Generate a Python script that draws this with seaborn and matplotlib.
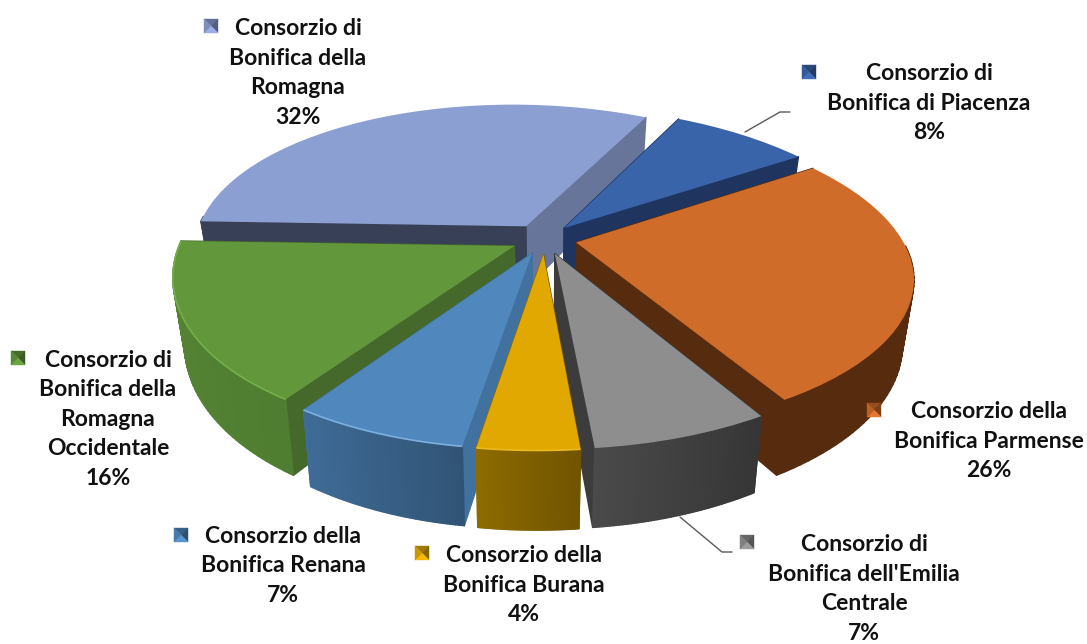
import numpy as np
import seaborn as sns
import matplotlib.pyplot as plt
from matplotlib.collections import PolyCollection
from matplotlib.colors import to_rgb
from matplotlib.patches import Polygon
from matplotlib.path import Path
from matplotlib.transforms import Transform

names = ["Consorzio di\nBonifica di Piacenza",
         "Consorzio della\nBonifica Parmense",
         "Consorzio di\nBonifica dell'Emilia\nCentrale",
         "Consorzio della\nBonifica Burana",
         "Consorzio della\nBonifica Renana",
         "Consorzio di\nBonifica della\nRomagna\nOccidentale",
         "Consorzio di\nBonifica della\nRomagna"]
shares = [8, 26, 7, 4, 7, 16, 32]

top_colors = ["#3A64AA", "#D06C2A", "#8E8E8E", "#E0A800", "#5087BC", "#62973C", "#8C9FD2"]
wall_left = ["#1F3560", "#562B0E", "#4A4A4A", "#8E6C00", "#3F6C97", "#568434", "#384057"]
wall_right = ["#1F3560", "#562B0E", "#363636", "#705400", "#315476", "#4F7D31", "#384057"]
start_face = ["#1F3560", "#562B0E", "#3C3C3C", "#705400", "#41719F", "#44692A", "#384057"]
end_face = ["#1F3560", "#562B0E", "#3C3C3C", "#8E6C00", "#41719F", "#44692A", "#68759A"]
rim_colors = [None, None, None, "#EDB920", "#7CB0E0", "#74B04A", None]

# back to front
draw_order = [6, 0, 5, 1, 4, 2, 3]

label_x = [929, 989, 864, 524, 283, 108, 298]
label_y = [105, 443, 591, 587, 568, 421, 75]
key_x = [809, 874, 747, 422, 181, 18, 211]
key_y = [72, 410, 542, 553, 535, 358, 26]

start_angle = 65
explode = 0.1
cx, cy = 543.5, 239
rx, ry = 330, 152
persp = 0.19
depth = 63


def tilt(x, y, z=0):
    w = 1 + persp * y
    # the original 3D view is not quite square on, front slides left and the plate leans
    dx = -14 * np.minimum(y, 0) ** 2
    dy = np.where(x < 0, 5.5, 7) * x + 2.5 * np.maximum(y, 0)
    return cx + rx * x / w * (1 - 0.0005 * z) + dx, cy + (z - ry * y) / w + dy


class Tilt(Transform):
    input_dims = output_dims = 2
    is_separable = False
    has_inverse = False

    def transform_non_affine(self, values):
        px, py = tilt(values[:, 0], values[:, 1])
        return np.column_stack([px, py])

    def transform_path_non_affine(self, path):
        return Path(self.transform_non_affine(path.vertices), path.codes)


sns.set_theme(style="white")
plt.rcParams["font.family"] = ["Lato", "DejaVu Sans"]

fig, ax = plt.subplots(figsize=(10.87, 6.44), dpi=100)
fig.subplots_adjust(0, 0, 1, 1)

wedges, _ = ax.pie(shares, colors=sns.color_palette(top_colors), startangle=start_angle,
                   counterclock=False, explode=[explode] * len(shares), radius=1)
ax.set_aspect("auto")
ax.set_xlim(0, 1087)
ax.set_ylim(644, 0)
ax.axis("off")

fracs = np.array(shares) / sum(shares)
ends = np.radians(start_angle - 360 * np.cumsum(fracs))
starts = ends + 2 * np.pi * fracs

for rank, i in enumerate(draw_order):
    wedges[i].set_transform(Tilt() + ax.transData)
    wedges[i].set_zorder(10 * rank + 2)
    wedges[i].set_linewidth(0)

    mid = (starts[i] + ends[i]) / 2
    ox, oy = explode * np.cos(mid), explode * np.sin(mid)
    angs = np.linspace(starts[i], ends[i], 60)
    ax_, ay_ = ox + np.cos(angs), oy + np.sin(angs)

    polys = []
    c_l, c_r = np.array(to_rgb(wall_left[i])), np.array(to_rgb(wall_right[i]))
    xmin, xmax = ax_.min(), ax_.max()
    for j in range(len(angs) - 1):
        # back half of the rim can't be seen
        if np.sin(angs[j]) > 0.02 and np.sin(angs[j + 1]) > 0.02:
            continue
        xa, ya = ax_[j], ay_[j]
        xb, yb = ax_[j + 1], ay_[j + 1]
        quad = [tilt(xa, ya), tilt(xb, yb), tilt(xb, yb, depth), tilt(xa, ya, depth)]
        t = ((xa + xb) / 2 - xmin) / (xmax - xmin)
        polys.append((((ya + yb) / 2), quad, c_l + (c_r - c_l) * t))
    for ang, col in [(starts[i], start_face[i]), (ends[i], end_face[i])]:
        xb, yb = ox + np.cos(ang), oy + np.sin(ang)
        quad = [tilt(ox, oy), tilt(xb, yb), tilt(xb, yb, depth), tilt(ox, oy, depth)]
        polys.append(((oy + yb) / 2, quad, np.array(to_rgb(col))))
    polys.sort(key=lambda p: -p[0])
    walls = PolyCollection([p[1] for p in polys], facecolors=[p[2] for p in polys],
                           edgecolors=[p[2] for p in polys], linewidths=1.0,
                           zorder=10 * rank + 1)
    ax.add_collection(walls)

    if rim_colors[i]:
        rim_x, rim_y = tilt(ax_, ay_)
        ax.plot(rim_x, rim_y, color=rim_colors[i], lw=1.2, zorder=10 * rank + 3,
                solid_capstyle="butt")

# leader lines
ax.plot([745, 780, 790], [132, 112, 112], color="#595959", lw=1, zorder=100)
ax.plot([680, 722, 732], [517, 552, 552], color="#595959", lw=1, zorder=100)

for i in range(len(names)):
    ax.text(label_x[i], label_y[i] - 2, names[i] + "\n%d%%" % shares[i], ha="center", va="center",
            fontsize=16.5, fontweight="bold", color="#111111", linespacing=1.5, zorder=120)
    x, y = key_x[i], key_y[i]
    s = 7
    base = np.array(to_rgb(top_colors[i]))
    corners = [(x - s, y - s), (x + s, y - s), (x + s, y + s), (x - s, y + s)]
    shades = [base * 0.72, base * 0.6, np.minimum(base * 1.1, 1), base * 0.9]
    for k in range(4):
        ax.add_patch(Polygon([corners[k], corners[(k + 1) % 4], (x, y)], closed=True,
                             facecolor=shades[k], edgecolor=shades[k], lw=0.3, zorder=110))

fig.savefig("out.png", dpi=100)
